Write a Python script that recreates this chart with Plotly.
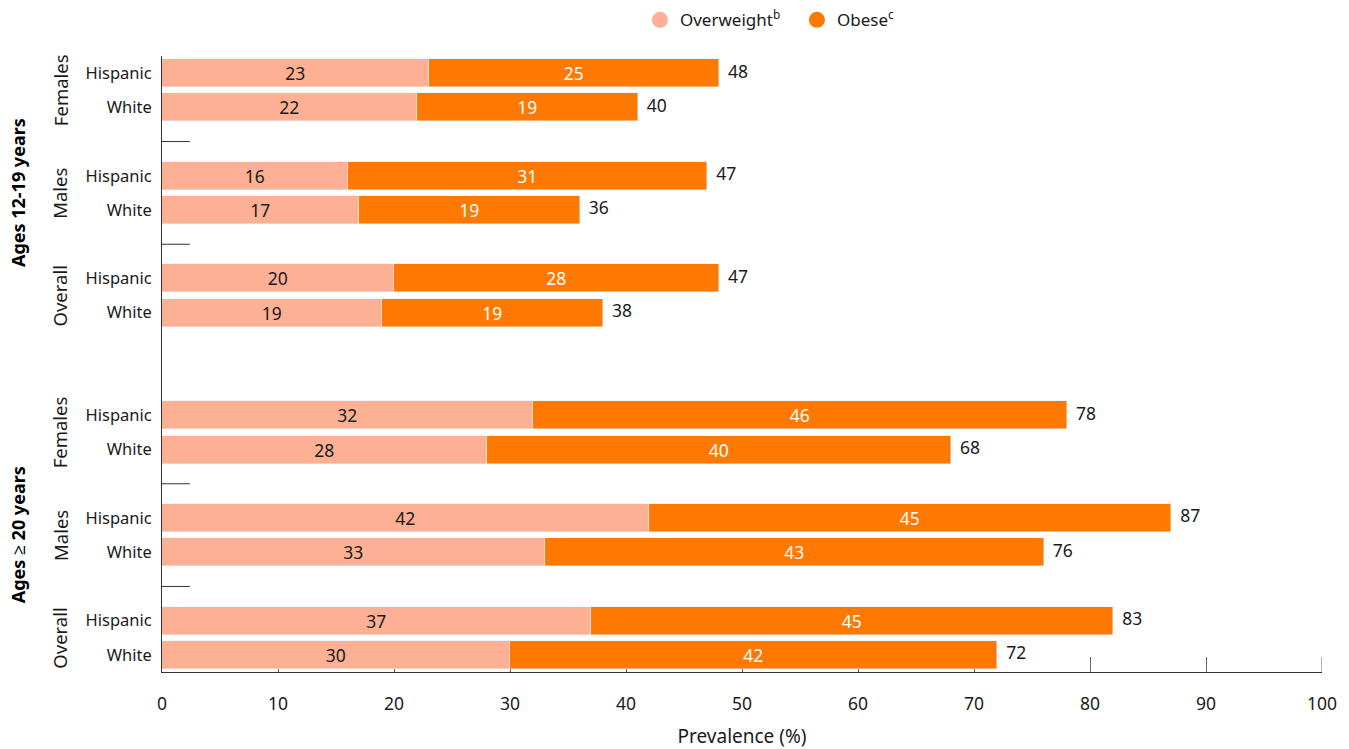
import plotly.graph_objects as go

# Prevalence (%) of overweight and obesity, by age group, sex and ethnicity
age_groups = ["Ages 12-19 years", "Ages \u2265 20 years"]
sex_groups = ["Females", "Males", "Overall"]
ethnicities = ["Hispanic", "White"]

overweight = [23, 22, 16, 17, 20, 19,
              32, 28, 42, 33, 37, 30]
obese = [25, 19, 31, 19, 28, 19,
         46, 40, 45, 43, 45, 42]
totals = [48, 40, 47, 36, 47, 38,
          78, 68, 87, 76, 83, 72]
x_ticks = list(range(0, 101, 10))

C_OW = "#FDB093"
C_OB = "#FF7800"
FONT = "Noto Sans"
TXT = "#1a1a1a"
TICK_LEN = 15
PLOT_H = 749 - 56 - 77

# Row slots: two rows per sex group, one blank slot between sex groups,
# two blank slots between age groups.
pos, labels, seps, sex_mid, age_mid = [], [], [], [], []
slot = 0
for a, age in enumerate(age_groups):
    start = slot
    for s, sex in enumerate(sex_groups):
        sex_mid.append((sex, slot + 0.5))
        for eth in ethnicities:
            pos.append(slot)
            labels.append(eth)
            slot += 1
        if s < len(sex_groups) - 1:
            seps.append(slot)
            slot += 1
    age_mid.append((age, (start + slot - 1) / 2))
    slot += 2
n_slots = pos[-1] + 1

fig = go.Figure()
fig.add_trace(go.Bar(
    y=pos, x=overweight, orientation="h", marker_color=C_OW, width=0.82,
    text=[str(v) for v in overweight], textposition="inside",
    insidetextanchor="middle", textangle=0, constraintext="none",
    insidetextfont=dict(color=TXT, size=17.5, family=FONT),
    showlegend=False, hoverinfo="skip"))
fig.add_trace(go.Bar(
    y=pos, x=obese, orientation="h", marker_color=C_OB, width=0.82,
    text=[str(v) for v in obese], textposition="inside",
    insidetextanchor="middle", textangle=0, constraintext="none",
    insidetextfont=dict(color="white", size=17.5, family=FONT),
    showlegend=False, hoverinfo="skip"))
fig.add_trace(go.Scatter(
    y=pos, x=[a + b for a, b in zip(overweight, obese)], mode="text",
    text=[f"  {t}" for t in totals], textposition="middle right",
    textfont=dict(color=TXT, size=17.5, family=FONT),
    showlegend=False, hoverinfo="skip", cliponaxis=False))

# Legend entries drawn as circles
for name, col in [("Overweight<sup>b</sup>", C_OW), ("Obese<sup>c</sup>", C_OB)]:
    fig.add_trace(go.Scatter(x=[None], y=[None], mode="markers", name=name,
                             marker=dict(color=col, size=16, symbol="circle")))

for s in seps:
    fig.add_shape(type="line", xref="x", yref="y", x0=0, x1=2.4, y0=s, y1=s,
                  line=dict(color="#333333", width=1))

# Inside tick at the right end of the axis (Plotly drops edge ticks)
fig.add_shape(type="line", xref="x", yref="paper", x0=x_ticks[-1], x1=x_ticks[-1],
              y0=0, y1=TICK_LEN / PLOT_H, line=dict(color="#666666", width=1),
              layer="below")

for name, y in sex_mid:
    fig.add_annotation(text=name, x=-0.088, xref="paper", y=y, yref="y",
                       textangle=-90, showarrow=False, xanchor="center",
                       yanchor="middle", font=dict(size=18.5, family=FONT, color=TXT))
for name, y in age_mid:
    fig.add_annotation(text=f"<b>{name}</b>", x=-0.124, xref="paper", y=y, yref="y",
                       textangle=-90, showarrow=False, xanchor="center",
                       yanchor="middle", font=dict(size=18, family=FONT, color="#000"))

fig.update_layout(
    barmode="stack",
    width=1349, height=749,
    margin=dict(l=162, r=27, t=56, b=77, autoexpand=False),
    plot_bgcolor="white", paper_bgcolor="white",
    font=dict(family=FONT, size=16, color=TXT),
    bargap=0,
    legend=dict(orientation="h", x=0.412, xanchor="left", y=1.058, yanchor="middle",
                font=dict(size=17, family=FONT, color=TXT), itemwidth=30,
                entrywidth=112, entrywidthmode="pixels",
                traceorder="normal"),
    xaxis=dict(range=[0, 100], tickvals=x_ticks,
               ticks="inside", ticklen=TICK_LEN, tickcolor="#666666", tickwidth=1,
               showline=True, linecolor="#333333", linewidth=1, showgrid=False,
               zeroline=False, layer="below traces", ticklabelstandoff=16,
               tickfont=dict(size=17.5, family=FONT, color=TXT),
               title=dict(text="Prevalence (%)", standoff=16,
                          font=dict(size=19, family=FONT, color=TXT)),
               fixedrange=True),
    yaxis=dict(range=[n_slots - 0.5, -0.5], tickvals=pos, ticktext=labels,
               ticks="", showline=True, linecolor="#333333", linewidth=1,
               showgrid=False, zeroline=False, ticklabelstandoff=6,
               tickfont=dict(size=16.5, family=FONT, color=TXT),
               layer="below traces", fixedrange=True),
)

fig.write_html("out.html")
